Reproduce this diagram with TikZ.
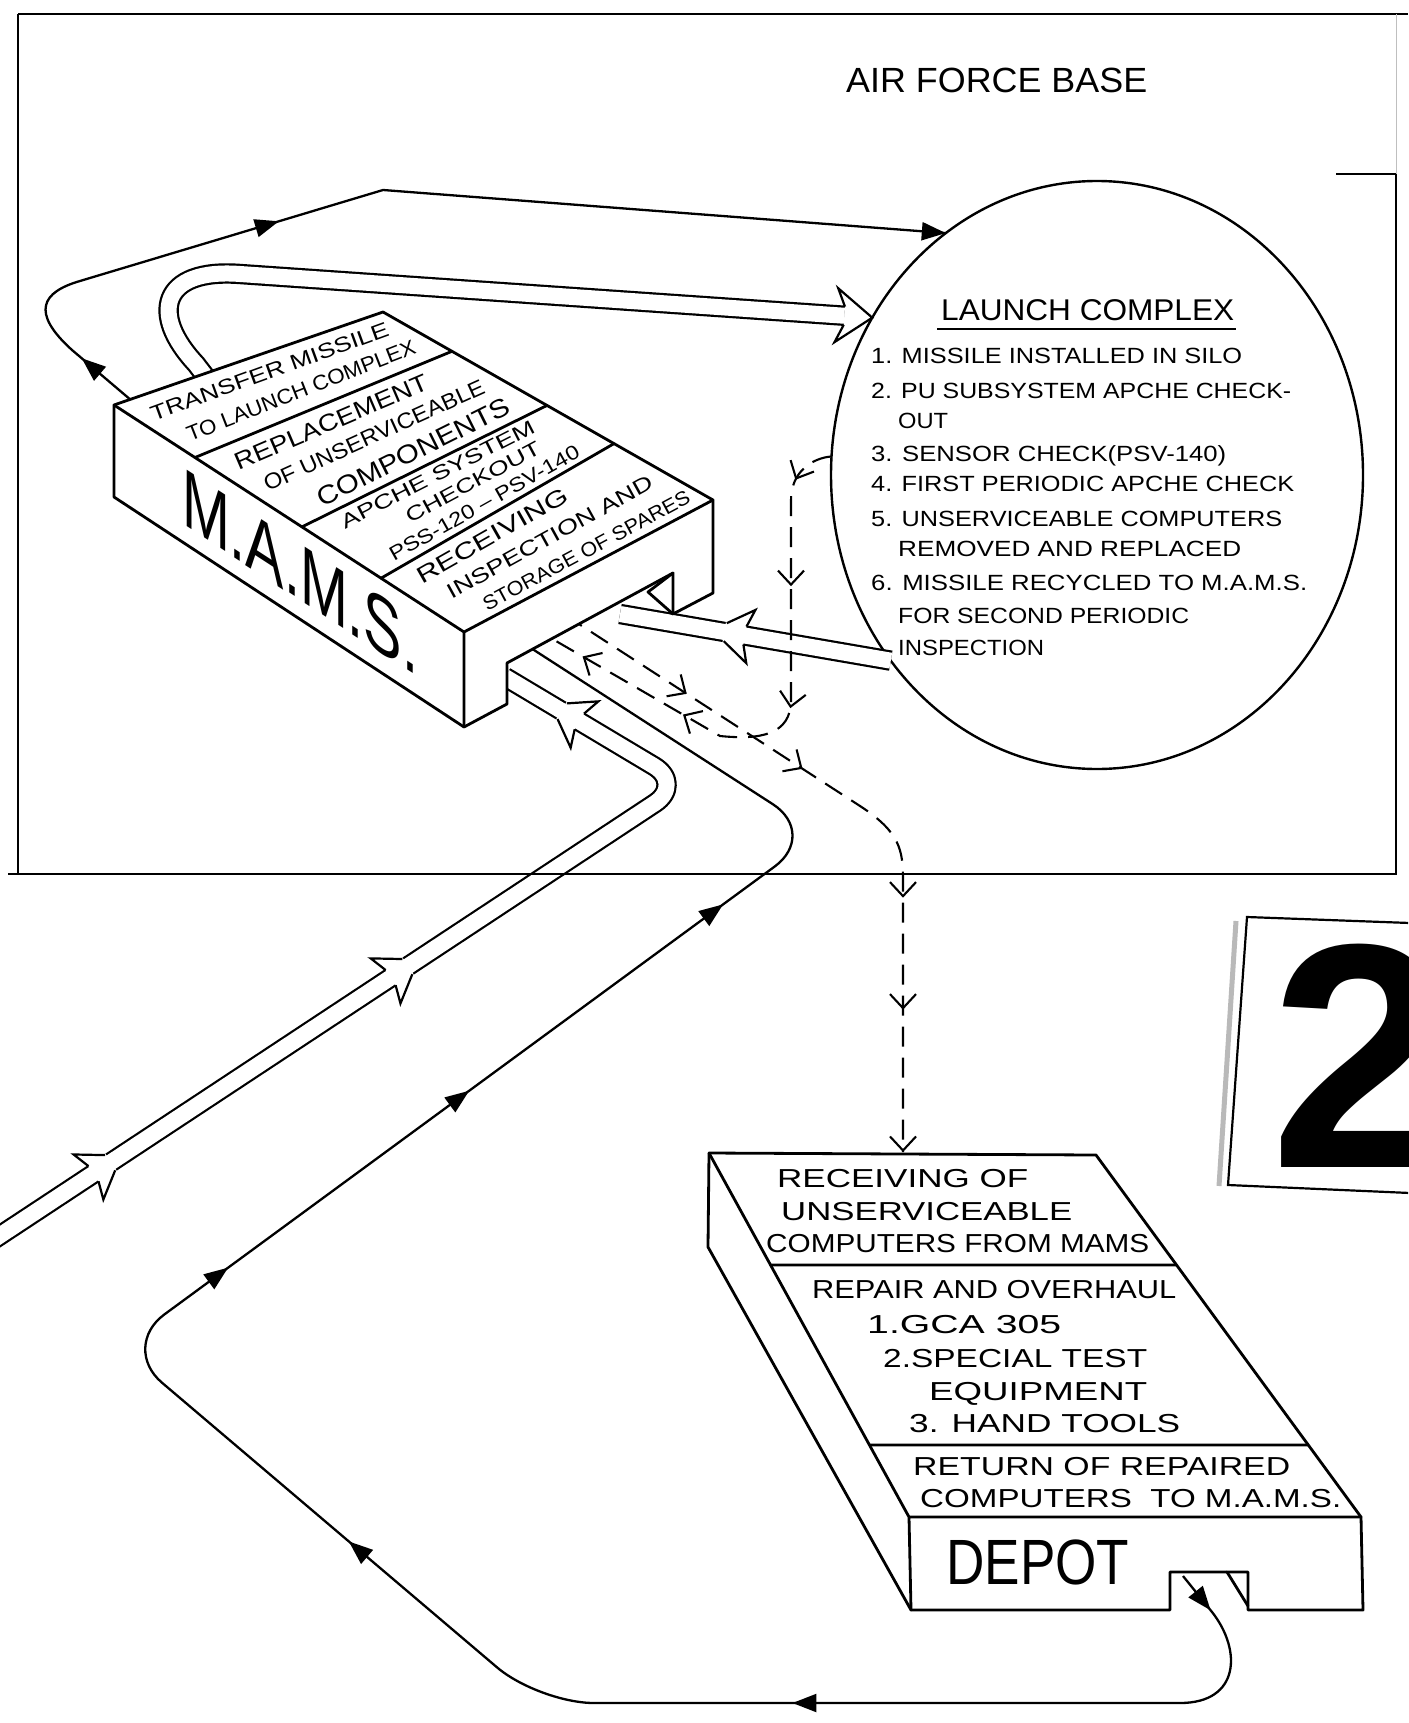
\documentclass[tikz,border=0pt]{standalone}
\usepackage{fontspec}
\setmainfont{Liberation Sans}
\usepackage{graphicx}
\usetikzlibrary{shapes.geometric,decorations.markings,arrows.meta,calc}
\newlength\fitlen
\newcommand\fitto[2]{\settowidth{\fitlen}{#2}\pgfmathsetmacro\fitfac{#1/\fitlen}\scalebox{\fitfac}[1]{#2}}
\newcommand\pipemid{%
  \fill[white, sharp corners] (-20,10.8) -- (-26,27) -- (1,10.8) -- (1,-10.8) -- (-26,-27) -- (-20,-10.8) -- cycle;
  \draw[line width=2.2pt,line join=miter,black, sharp corners] (-20,9.1) -- (-26,27) -- (0,9.1);
  \draw[line width=2.2pt,line join=miter,black, sharp corners] (-20,-9.1) -- (-26,-27) -- (0,-9.1);}
\newcommand\pipetip{%
  \fill[white, sharp corners] (-28,10.8) -- (-36,27) -- (0,0) -- (-36,-27) -- (-28,-10.8) -- cycle;
  \draw[line width=2.2pt,line join=miter,black, sharp corners] (-28,9.1) -- (-36,27) -- (0,0) -- (-36,-27) -- (-28,-9.1);}
\newcommand\tri{\arrow{Triangle[length=24pt,width=18pt]}}
\newcommand\vbarb{\arrow[solid]{Straight Barb[length=14pt,width=26pt,line width=2.1pt]}}
\tikzset{
  boxedge/.style={line width=2.8pt, line join=round, line cap=round},
  flow/.style={line width=2.3pt, line join=round},
  pipe/.style={line width=2.2pt, double=white, double distance=16pt, line join=round},
  dashflow/.style={line width=2.1pt, dash pattern=on 20pt off 11pt},
  frameline/.style={line width=2.8pt},
  mtxt/.style={inner sep=0pt},
  dtxt/.style={inner sep=0pt, anchor=base west, font=\fontsize{26}{26}\selectfont},
  ltxt/.style={inner sep=0pt, anchor=base west, font=\fontsize{22}{22}\selectfont},
}
\begin{document}
\begin{tikzpicture}[x=1pt,y=-1pt]
\useasboundingbox (0,0) rectangle (1408,1723);
\fill[white] (0,0) rectangle (1408,1723);
\clip (0,0) rectangle (1408,1723);

% ---------- launch complex circle
\node[draw, ellipse, line width=2.4pt, minimum width=532pt, minimum height=588pt, inner sep=0pt, outer sep=0pt] (lc) at (1097,475) {};

% ---------- coordinates
\coordinate (mL) at (114,405);
\coordinate (mT) at (383,312);
\coordinate (mR) at (713,500);
\coordinate (mF) at (464,632);
\coordinate (mLb) at (114,497);
\coordinate (mFb) at (464,727);
\coordinate (mRb) at (713,593);
\coordinate (mN1) at (507,704);
\coordinate (mN2) at (507,663);
\coordinate (mN3) at (673,573);
\coordinate (mN4) at (673,614);
\coordinate (mNi) at (648,592);

\coordinate (dA) at (709,1153);
\coordinate (dB) at (1096,1155);
\coordinate (dC) at (1361,1517);
\coordinate (dD) at (909,1517);
\coordinate (dAb) at (708,1247);
\coordinate (dE) at (911,1610);
\coordinate (dCb) at (1363,1610);
\coordinate (dn1) at (1170,1610);
\coordinate (dn2) at (1170,1572);
\coordinate (dn3) at (1248,1572);
\coordinate (dn4) at (1248,1610);
\coordinate (dni1) at (1227,1572);
\coordinate (dni2) at (1248,1606);

% ---------- pipe P2 : launch complex -> MAMS
\coordinate (p2e) at (620,614);
\draw[pipe] (lc.222) -- (p2e);
\path[decorate, decoration={markings, mark=at position 168pt with {\pipemid}}] (lc.222) -- (p2e);

% ---------- pipe P1 : MAMS -> launch complex
\coordinate (p1a) at (222,398);
\coordinate (p1b) at (196,364);
\coordinate (p1c) at (240,274);
\coordinate (p1e) at ($(lc.145)!28pt!(p1c)$);
\draw[pipe] (p1a) -- (p1b) .. controls (150,315) and (160,268) .. (p1c) -- (p1e);
\path[decorate, decoration={markings, mark=at position 1 with {\pipetip}}] (p1c) -- (lc.145);

% ---------- pipe P3 : outside -> MAMS
\coordinate (p3s) at (-10,1242);
\coordinate (p3c) at (684,784);
\coordinate (p3e) at (505,677);
\draw[pipe, rounded corners=35pt] (p3s) -- (p3c) -- (p3e);
\path[rounded corners=35pt, decorate, decoration={markings,
   mark=at position 144pt with {\pipemid},
   mark=at position 500pt with {\pipemid},
   mark=at position 950pt with {\pipemid}}] (p3s) -- (p3c) -- (p3e);

% ---------- thin line MAMS -> launch complex (top)
\coordinate (t1) at (145,412);
\coordinate (t2) at (72,350);
\coordinate (t3) at (80,281);
\coordinate (t4) at (383,190);
\draw[flow, postaction={decorate}, decoration={markings,
   mark=at position 83pt with {\tri},
   mark=at position 401pt with {\tri},
   mark=at position 1 with {\tri}}]
   (t1) -- (t2) .. controls (30,312) and (42,292) .. (t3) -- (t4) -- (lc.122);

% ---------- thin loop depot -> MAMS
\coordinate (r1) at (1183,1576);
\coordinate (r2) at (1212,1612);
\coordinate (r3) at (1180,1703);
\coordinate (r4) at (539,1703);
\coordinate (r5) at (120,1347);
\coordinate (r6) at (819,834);
\coordinate (r7) at (520,641);
\draw[flow, postaction={decorate}, decoration={markings,
   mark=at position 44pt with {\tri},
   mark=at position 562pt with {\tri},
   mark=at position 1060pt with {\tri},
   mark=at position 1464pt with {\tri},
   mark=at position 1763pt with {\tri},
   mark=at position 2078pt with {\tri}}]
   (r1) -- (r2) .. controls (1242,1650) and (1240,1703) .. (r3)
   [rounded corners=55pt] -- (r4) -- (r5) -- (r6) -- (r7);

% ---------- dashed X : launch complex -> MAMS
\coordinate (x1) at (791,500);
\coordinate (x2) at (791,700);
\coordinate (x3) at (720,736);
\coordinate (x4) at (530,626);
\draw[dashflow, postaction={decorate}, decoration={markings,
   mark=at position 45pt with {\vbarb},
   mark=at position 152pt with {\vbarb},
   mark=at position 274pt with {\vbarb},
   mark=at position 401pt with {\vbarb},
   mark=at position 517pt with {\vbarb}}]
   (lc.176) .. controls (812,458) and (791,472) .. (x1) -- (x2)
   .. controls (791,735) and (760,740) .. (x3) -- (x4);

% ---------- dashed Y : MAMS -> depot
\coordinate (y1) at (565,615);
\coordinate (y2) at (860,806);
\coordinate (y3) at (903,880);
\coordinate (y4) at (903,1152);
\draw[dashflow, postaction={decorate}, decoration={markings,
   mark=at position 145pt with {\vbarb},
   mark=at position 283pt with {\vbarb},
   mark=at position 460pt with {\vbarb},
   mark=at position 572pt with {\vbarb},
   mark=at position 1 with {\vbarb}}]
   (y1) -- (y2) .. controls (900,832) and (903,850) .. (y3) -- (y4);

% ---------- MAMS box
\fill[white] (mL) -- (mT) -- (mR) -- (mRb) -- (mN4) -- (mN3) -- (mN2) -- (mN1) -- (mFb) -- (mLb) -- cycle;
\draw[boxedge] (mL) -- (mT) -- (mR) -- (mRb) -- (mN4) -- (mN3) -- (mN2) -- (mN1) -- (mFb) -- (mLb) -- cycle;
\draw[boxedge] (mL) -- (mF) -- (mR) (mF) -- (mFb) (mN3) -- (mNi) -- (mN4);
\draw[boxedge] ($(mL)!0.2314!(mF)$) -- ($(mT)!0.209!(mR)$);
\draw[boxedge] ($(mL)!0.537!(mF)$) -- ($(mT)!0.497!(mR)$);
\draw[boxedge] ($(mL)!0.763!(mF)$) -- ($(mT)!0.700!(mR)$);

\node[mtxt, rotate=20.0, font=\fontsize{21}{21}\selectfont] (m1) at (269.5,371.4) {\fitto{252pt}{TRANSFER MISSILE}};
\node[mtxt, rotate=21.4, font=\fontsize{21}{21}\selectfont] (m2) at (301,390.6) {\fitto{244pt}{TO LAUNCH COMPLEX}};
\node[mtxt, rotate=23.2, font=\fontsize{24}{24}\selectfont] (m3) at (331,422.2) {\fitto{208pt}{REPLACEMENT}};
\node[mtxt, rotate=24.4, font=\fontsize{22}{22}\selectfont] (m4) at (374,435.3) {\fitto{240pt}{OF UNSERVICEABLE}};
\node[mtxt, rotate=26.5, font=\fontsize{26}{26}\selectfont] (m5) at (413.3,451.9) {\fitto{212pt}{COMPONENTS}};
\node[mtxt, rotate=27.0, font=\fontsize{20}{20}\selectfont] (m6) at (437.7,474.3) {\fitto{215pt}{APCHE SYSTEM}};
\node[mtxt, rotate=28.2, font=\fontsize{20}{20}\selectfont] (m7) at (473,482.1) {\fitto{150pt}{CHECKOUT}};
\node[mtxt, rotate=29.4, font=\fontsize{20}{20}\selectfont] (m8) at (484.4,502.9) {\fitto{215pt}{PSS-120 – PSV-140}};
\node[mtxt, rotate=29.6, font=\fontsize{23}{23}\selectfont] (m9) at (492.1,535.4) {\fitto{170pt}{RECEIVING}};
\node[mtxt, rotate=28.9, font=\fontsize{21}{21}\selectfont] (m10) at (549.7,536.9) {\fitto{232pt}{INSPECTION AND}};
\node[mtxt, rotate=28.2, font=\fontsize{20}{20}\selectfont] (m11) at (586.3,550.6) {\fitto{232pt}{STORAGE OF SPARES}};
\node[mtxt, yslant=-0.649, font=\fontsize{82}{82}\selectfont] (mams) at (300,572) {\fitto{236pt}{M.A.M.S.}};

% ---------- depot box
\fill[white] (dA) -- (dB) -- (dC) -- (dCb) -- (dn4) -- (dn3) -- (dn2) -- (dn1) -- (dE) -- (dAb) -- cycle;
\draw[boxedge] (dA) -- (dB) -- (dC) -- (dCb) -- (dn4) -- (dn3) -- (dn2) -- (dn1) -- (dE) -- (dAb) -- cycle;
\draw[boxedge] (dA) -- (dD) -- (dC) (dD) -- (dE) (dni1) -- (dni2);
\draw[boxedge] ($(dA)!0.3077!(dD)$) -- ($(dB)!0.3039!(dC)$);
\draw[boxedge] ($(dA)!0.802!(dD)$) -- ($(dB)!0.801!(dC)$);

\node[dtxt] (d1) at (777,1187) {\fitto{251pt}{RECEIVING OF}};
\node[dtxt] (d2) at (781,1220) {\fitto{291pt}{UNSERVICEABLE}};
\node[dtxt] (d3) at (766,1252) {\fitto{383pt}{COMPUTERS FROM MAMS}};
\node[dtxt] (d4) at (812,1298) {\fitto{364pt}{REPAIR AND OVERHAUL}};
\node[dtxt] (d5) at (867,1333) {\fitto{194pt}{1.GCA 305}};
\node[dtxt] (d6) at (883,1367) {\fitto{264pt}{2.SPECIAL TEST}};
\node[dtxt] (d7) at (929,1400) {\fitto{218pt}{EQUIPMENT}};
\node[dtxt] (d8) at (909,1432) {\fitto{271pt}{3. HAND TOOLS}};
\node[dtxt] (d9) at (913,1475) {\fitto{377pt}{RETURN OF REPAIRED}};
\node[dtxt] (d10) at (920,1507) {\fitto{421pt}{COMPUTERS\ \ TO M.A.M.S.}};
\node[inner sep=0pt, anchor=base west, font=\fontsize{64}{64}\selectfont] (depot) at (946,1584) {\fitto{183pt}{DEPOT}};

% ---------- launch complex texts
\node[inner sep=0pt, anchor=base west, font=\fontsize{35}{35}\selectfont] (afb) at (846,93) {\fitto{301pt}{AIR FORCE BASE}};
\node[inner sep=0pt, anchor=base west, font=\fontsize{30}{30}\selectfont] (lct) at (941,320) {\fitto{293pt}{LAUNCH COMPLEX}};
\draw[line width=2.6pt] ([xshift=-4pt,yshift=-9pt]lct.base west) -- ([xshift=2pt,yshift=-9pt]lct.base east);
\node[ltxt] (l1) at (871,363.5) {\fitto{371pt}{1. MISSILE INSTALLED IN SILO}};
\node[ltxt] (l2) at (871,398.5) {\fitto{420pt}{2. PU SUBSYSTEM APCHE CHECK-}};
\node[ltxt] (l2b) at (898,428.5) {\fitto{50pt}{OUT}};
\node[ltxt] (l3) at (871,461.5) {\fitto{355pt}{3. SENSOR CHECK(PSV-140)}};
\node[ltxt] (l4) at (871,491.5) {\fitto{423pt}{4. FIRST PERIODIC APCHE CHECK}};
\node[ltxt] (l5) at (871,526.5) {\fitto{411pt}{5. UNSERVICEABLE COMPUTERS}};
\node[ltxt] (l5b) at (898,556.5) {\fitto{343pt}{REMOVED AND REPLACED}};
\node[ltxt] (l6) at (871,590.5) {\fitto{436pt}{6. MISSILE RECYCLED TO M.A.M.S.}};
\node[ltxt] (l6b) at (898,623.5) {\fitto{291pt}{FOR SECOND PERIODIC}};
\node[ltxt] (l6c) at (898,655.5) {\fitto{146pt}{INSPECTION}};

% ---------- panel "2"
\draw[line width=5pt, gray!55] (1236,921) -- (1219,1186);
\draw[line width=2.2pt] (1410,923) -- (1247,917) -- (1228,1185) -- (1410,1193);
\node[inner sep=0pt, anchor=base west, font=\fontsize{320}{320}\selectfont\bfseries] (two) at (1270,1167) {2};

% ---------- frame
\draw[frameline] (18,14) -- (1408,14);
\draw[frameline] (18,14) -- (18,874);
\draw[frameline] (8,874) -- (1396,874) -- (1396,174) -- (1336,174);
\draw[line width=1pt, gray!50] (1396,14) -- (1396,174);
\end{tikzpicture}
\end{document}
